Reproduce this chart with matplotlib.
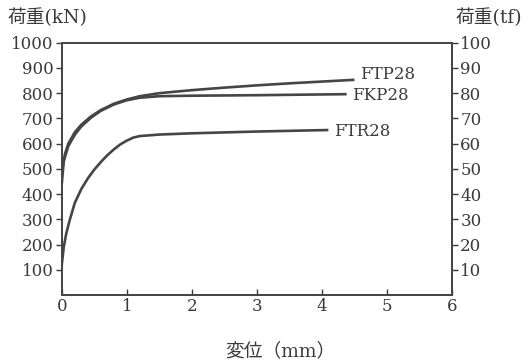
import numpy as np
import matplotlib
matplotlib.use('Agg')
import matplotlib.pyplot as plt

# ---------- datos ----------
ftp_x = [0, 0.05, 0.1, 0.2, 0.3, 0.45, 0.6, 0.8, 1.0, 1.2, 1.5, 2.0, 2.5, 3.0, 3.5, 4.0, 4.5]
ftp_y = [490, 560, 600, 645, 675, 708, 733, 758, 775, 788, 800, 812, 822, 831, 839, 846, 853]

fkp_x = [0, 0.03, 0.1, 0.2, 0.3, 0.45, 0.6, 0.8, 1.0, 1.2, 1.5, 2.0, 3.0, 4.0, 4.38]
fkp_y = [440, 530, 590, 635, 668, 703, 730, 755, 772, 782, 788, 790, 792, 795, 796]

ftr_x = [0, 0.03, 0.07, 0.12, 0.2, 0.3, 0.4, 0.5, 0.6, 0.7, 0.8, 0.9, 1.0, 1.1, 1.2, 1.5, 2.0, 3.0, 4.1]
ftr_y = [120, 190, 245, 295, 365, 420, 462, 497, 527, 554, 577, 597, 612, 624, 630, 636, 641, 648, 654]

labels = ['FTP28', 'FKP28', 'FTR28']
xticks = [0, 1, 2, 3, 4, 5, 6]
yticks_kn = [100, 200, 300, 400, 500, 600, 700, 800, 900, 1000]
yticks_tf = [10, 20, 30, 40, 50, 60, 70, 80, 90, 100]

# ---------- estilo ----------
FAM = ['DejaVu Serif', 'Noto Sans CJK JP']
plt.rcParams['font.family'] = FAM
INK = '#3a3a3a'
LINE = '#454545'
FS = 12

fig = plt.figure(figsize=(5.28, 3.62), dpi=100)
ax = fig.add_axes([0.117, 0.185, 0.739, 0.697])

# desplazamiento vertical de cada etiqueta (en kN) para que no se solapen
lab_dy = [22, -4, -4]
for xs, ys, lab, dy in zip([ftp_x, fkp_x, ftr_x], [ftp_y, fkp_y, ftr_y], labels, lab_dy):
    ax.plot(xs, ys, color=LINE, lw=1.9, solid_capstyle='butt')
    ax.text(xs[-1] + 0.08, ys[-1] + dy, lab, fontsize=FS, color=INK,
            va='center', ha='left')

ax.set_xlim(0, 6)
ax.set_ylim(0, 1000)
ax.set_xticks(xticks)
ax.set_yticks(yticks_kn)
ax.tick_params(axis='x', direction='in', length=4, width=1, colors=INK,
               labelsize=FS, pad=2)
ax.tick_params(axis='y', direction='out', length=4, width=1, colors=INK,
               labelsize=FS, pad=2)
for s in ax.spines.values():
    s.set_color(LINE)
    s.set_linewidth(1.3)

ax2 = ax.twinx()
ax2.set_ylim(0, 100)
ax2.set_yticks(yticks_tf)
ax2.tick_params(axis='y', direction='out', length=4, width=1, colors=INK,
                labelsize=FS, pad=2)
for s in ax2.spines.values():
    s.set_color(LINE)
    s.set_linewidth(1.3)

fig.text(0.015, 0.95, '荷重(kN)', fontsize=13.5, color=INK, ha='left', va='center')
fig.text(0.988, 0.95, '荷重(tf)', fontsize=13.5, color=INK, ha='right', va='center')
fig.text(0.53, 0.03, '変位（mm）', fontsize=13.5, color=INK, ha='center', va='center')

plt.savefig('out.png', dpi=100)
plt.close()
